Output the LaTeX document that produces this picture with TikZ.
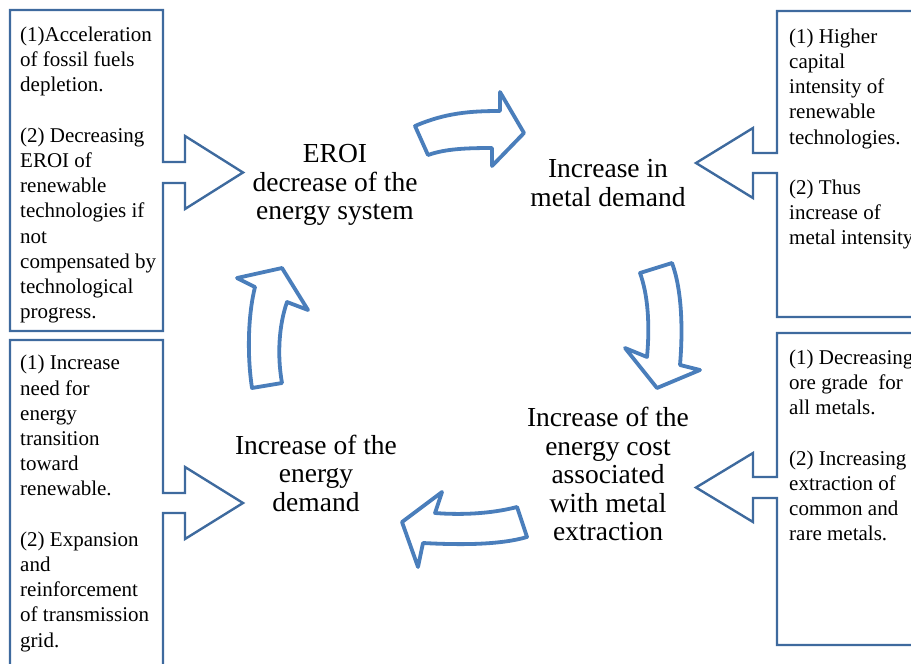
\documentclass[tikz,border=0pt]{standalone}
\usepackage{fontspec}
\setmainfont{Liberation Serif}
\definecolor{boxblue}{HTML}{3E6A9E}
\definecolor{arrblue}{HTML}{4A7EBB}
\begin{document}
\begin{tikzpicture}[x=1pt,y=-1pt,
  note/.style={anchor=north west,align=left,inner sep=0pt,execute at begin node=\strut,
    font=\fontsize{21}{25.2}\selectfont},
  stage/.style={align=center,inner sep=0pt,font=\fontsize{27.5}{28.5}\selectfont},
  callout/.style={draw=boxblue,line width=2.4pt,line join=miter},
  cycarrow/.style={draw=arrblue,line width=3.8pt,line join=round,fill=white}]
\useasboundingbox (0,0) rectangle (911,664);
\clip (0,0) rectangle (911,664);

% side boxes with their pointers
\path[callout] (10,10) -- (163,10) -- (163,162) -- (185,162) -- (185,136) -- (243,172.5)
  -- (185,209) -- (185,183) -- (163,183) -- (163,331) -- (10,331) -- cycle;
\path[callout] (10,340) -- (163,340) -- (163,493) -- (185,493) -- (185,467) -- (243,503)
  -- (185,539) -- (185,513) -- (163,513) -- (163,690) -- (10,690) -- cycle;
\path[callout] (930,11) -- (777,11) -- (777,153) -- (753,153) -- (753,128) -- (696,163)
  -- (753,198) -- (753,173) -- (777,173) -- (777,317) -- (930,317);
\path[callout] (930,333) -- (777,333) -- (777,477) -- (753,477) -- (753,453) -- (696,487.5)
  -- (753,522) -- (753,498) -- (777,498) -- (777,645) -- (930,645);

\node[note] (tl) at (20,26.8) {(1)Acceleration\\of fossil fuels\\depletion.\\[25.2pt]
  (2) Decreasing\\EROI of\\renewable\\technologies if\\not\\compensated by\\technological\\progress.};
\node[note] (bl) at (20,355.2) {(1) Increase\\need for\\energy\\transition\\toward\\renewable.\\[25.2pt]
  (2) Expansion\\and\\reinforcement\\of transmission\\grid.};
\node[note] (tr) at (789,28.6) {(1) Higher\\capital\\intensity of\\renewable\\technologies.\\[25.2pt]
  (2) Thus\\increase of\\metal intensity};
\node[note] (br) at (789,349.6) {(1) Decreasing\\ore grade\ \ for\\all metals.\\[25.2pt]
  (2) Increasing\\extraction of\\common and\\rare metals.};

% the four stages
\node[stage] (eroi) at (335,185) {EROI\\decrease of the\\energy system};
\node[stage] (metal) at (608,183) {Increase in\\metal demand};
\node[stage] (cost) at (608,474) {Increase of the\\energy cost\\associated\\with metal\\extraction};
\node[stage] (demand) at (316,473) {Increase of the\\energy\\demand};

% cycle arrows
\path[cycarrow] (415,126) .. controls (445,113) and (470,111) .. (500,111) -- (500,92) -- (524,133)
  -- (492,166) -- (492,148) .. controls (465,148) and (445,149) .. (428,155) -- cycle;
\path[cycarrow] (672,263) .. controls (682,290) and (683,330) .. (680,365) -- (700,370) -- (657,388)
  -- (625,348) -- (647,357) .. controls (650,325) and (648,295) .. (640,273) -- cycle;
\path[cycarrow] (527,537) .. controls (500,545) and (460,545) .. (423,543) -- (418,567) -- (402,522)
  -- (442,492) -- (435,513) .. controls (460,515) and (490,514) .. (517,507) -- cycle;
\path[cycarrow] (252,388) .. controls (247,355) and (248,315) .. (255,287) -- (237,278) -- (282,268)
  -- (308,310) -- (287,302) .. controls (279,325) and (277,355) .. (282,383) -- cycle;
\end{tikzpicture}
\end{document}
